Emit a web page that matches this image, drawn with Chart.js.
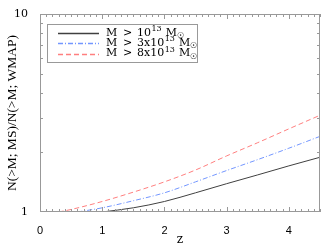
<!DOCTYPE html>
<html>
<head>
<meta charset="utf-8">
<script src="https://cdn.jsdelivr.net/npm/chart.js@4"></script>
<style>
  html, body { margin: 0; padding: 0; background: #fff; }
  canvas { display: block; }
</style>
</head>
<body>
<canvas id="chart" width="326" height="248"></canvas>
<script>
// values
const zBlack = [1.0, 1.5, 2.0, 2.5, 3.0, 3.5, 4.0, 4.5];
const ratioBlack = [1.0, 1.05, 1.13, 1.25, 1.39, 1.54, 1.71, 1.89];
const zBlue = [0.6, 1.0, 1.5, 2.0, 2.5, 3.0, 3.5, 4.0, 4.5];
const ratioBlue = [1.0, 1.05, 1.14, 1.25, 1.42, 1.62, 1.84, 2.10, 2.41];
const zRed = [0.3, 0.5, 1.0, 1.5, 2.0, 2.5, 3.0, 3.5, 4.0, 4.5];
const ratioRed = [1.0, 1.03, 1.13, 1.26, 1.42, 1.63, 1.92, 2.24, 2.63, 3.08];

const massLabels = ['10', '3x10', '8x10'];
const massExponent = '13';
const xTickValues = [0, 1, 2, 3, 4];
const yTickValues = [1, 10];
const yMinorValues = [2, 3, 4, 5, 6, 7, 8, 9];

const serif = "'DejaVu Serif', 'Liberation Serif', serif";
const times = "'Liberation Serif', serif";
const sans = "'Liberation Sans', Arial, sans-serif";

function toPoints(xs, ys) {
    return xs.map((x, i) => ({ x: x, y: ys[i] }));
}

// box round the plot with inward ticks on all four sides
const framePlugin = {
    id: 'frame',
    afterDraw(chart) {
        const { ctx, chartArea: a, scales } = chart;
        ctx.save();
        ctx.strokeStyle = '#999';
        ctx.lineWidth = 1;
        ctx.strokeRect(Math.round(a.left) + 0.5, Math.round(a.top) + 0.5,
            Math.round(a.right - a.left) - 1, Math.round(a.bottom - a.top) - 1);

        ctx.beginPath();
        for (let i = 0; i <= 45; i++) {
            const v = i / 10;
            const px = Math.round(scales.x.getPixelForValue(v)) + 0.5;
            const len = (i % 10 === 0) ? 5 : 3;
            ctx.moveTo(px, a.bottom);
            ctx.lineTo(px, a.bottom - len);
            ctx.moveTo(px, a.top);
            ctx.lineTo(px, a.top + len);
        }
        yMinorValues.forEach(v => {
            const py = Math.round(scales.y.getPixelForValue(v)) + 0.5;
            ctx.moveTo(a.left, py);
            ctx.lineTo(a.left + 3, py);
            ctx.moveTo(a.right, py);
            ctx.lineTo(a.right - 3, py);
        });
        ctx.stroke();
        ctx.restore();
    }
};

// legend box inside the plot, with superscript exponent and sun symbol
const legendPlugin = {
    id: 'massLegend',
    afterDraw(chart) {
        const { ctx, chartArea: a } = chart;
        const left = a.left + 7;
        const top = a.top + 10;
        ctx.save();
        ctx.fillStyle = '#fff';
        ctx.fillRect(left, top, 151, 38);
        ctx.strokeStyle = '#999';
        ctx.lineWidth = 1;
        ctx.strokeRect(Math.round(left) + 0.5, Math.round(top) + 0.5, 150, 38);

        chart.data.datasets.forEach((ds, i) => {
            const y = top + 9 + i * 10.3;
            ctx.beginPath();
            ctx.strokeStyle = ds.borderColor;
            ctx.lineWidth = 1.3;
            ctx.setLineDash(ds.borderDash || []);
            ctx.moveTo(left + 11, Math.round(y) + 0.5);
            ctx.lineTo(left + 52, Math.round(y) + 0.5);
            ctx.stroke();
            ctx.setLineDash([]);

            ctx.fillStyle = '#000';
            ctx.textBaseline = 'middle';
            ctx.font = '11px ' + serif;
            let x = left + 59;
            ctx.fillText('M', x, y);
            ctx.fillText('>', left + 76, y);
            x = left + 90;
            ctx.fillText(massLabels[i], x, y);
            x += ctx.measureText(massLabels[i]).width;
            ctx.font = '8px ' + serif;
            ctx.fillText(massExponent, x + 0.5, y - 4);
            x += ctx.measureText(massExponent).width + 4.5;
            ctx.font = '11px ' + serif;
            ctx.fillText('M', x, y);
            x += ctx.measureText('M').width;
            ctx.font = '8px ' + serif;
            ctx.fillText('\u2609', x, y + 3);
        });
        ctx.restore();
    }
};

new Chart(document.getElementById('chart'), {
    type: 'line',
    data: {
        datasets: [
            {
                label: 'M > 10^13 Msun',
                data: toPoints(zBlack, ratioBlack),
                borderColor: '#404040',
                borderWidth: 1,
                pointRadius: 0,
                cubicInterpolationMode: 'monotone'
            },
            {
                label: 'M > 3x10^13 Msun',
                data: toPoints(zBlue, ratioBlue),
                borderColor: '#7396ff',
                borderWidth: 1,
                borderDash: [5, 2, 1, 2],
                pointRadius: 0,
                cubicInterpolationMode: 'monotone'
            },
            {
                label: 'M > 8x10^13 Msun',
                data: toPoints(zRed, ratioRed),
                borderColor: '#ff7f7f',
                borderWidth: 1,
                borderDash: [5, 3],
                pointRadius: 0,
                cubicInterpolationMode: 'monotone'
            }
        ]
    },
    options: {
        responsive: false,
        devicePixelRatio: 1,
        animation: false,
        layout: { padding: { left: 0, right: 6, top: 14, bottom: 0 } },
        plugins: {
            legend: { display: false },
            tooltip: { enabled: false }
        },
        scales: {
            x: {
                type: 'linear',
                min: 0,
                max: 4.5,
                afterBuildTicks: scale => {
                    scale.ticks = xTickValues.map(v => ({ value: v }));
                },
                afterFit: scale => { scale.height = 36; },
                grid: { display: false },
                border: { display: false },
                ticks: {
                    color: '#000',
                    padding: 4,
                    maxRotation: 0,
                    font: { family: sans, size: 11 },
                    callback: v => String(v)
                },
                title: {
                    display: true,
                    text: 'z',
                    color: '#000',
                    font: { family: serif, size: 12 },
                    padding: { top: 0, bottom: 1 }
                }
            },
            y: {
                type: 'logarithmic',
                min: 1,
                max: 10,
                afterBuildTicks: scale => {
                    scale.ticks = yTickValues.map(v => ({ value: v }));
                },
                afterFit: scale => { scale.width = 40; },
                grid: { display: false },
                border: { display: false },
                ticks: {
                    color: '#000',
                    padding: 4,
                    font: { family: serif, size: 11 },
                    callback: v => String(v)
                },
                title: {
                    display: true,
                    text: 'N(>M; MS)/N(>M; WMAP)',
                    color: '#000',
                    font: { family: times, size: 13.5 },
                    padding: { top: 4, bottom: 0 }
                }
            }
        }
    },
    plugins: [framePlugin, legendPlugin]
});
</script>
</body>
</html>
